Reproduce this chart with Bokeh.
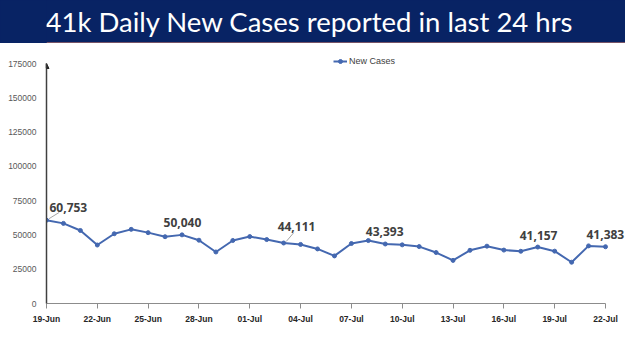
from bokeh.plotting import figure
from bokeh.models import Range1d, FixedTicker, Label, Legend, LegendItem, Span, Arrow, NormalHead, BasicTickFormatter
from bokeh.layouts import column
from bokeh.embed import file_html
from bokeh.resources import INLINE

# ---------------- data ----------------
dates = ["19-Jun", "20-Jun", "21-Jun", "22-Jun", "23-Jun", "24-Jun", "25-Jun", "26-Jun",
         "27-Jun", "28-Jun", "29-Jun", "30-Jun", "01-Jul", "02-Jul", "03-Jul", "04-Jul",
         "05-Jul", "06-Jul", "07-Jul", "08-Jul", "09-Jul", "10-Jul", "11-Jul", "12-Jul",
         "13-Jul", "14-Jul", "15-Jul", "16-Jul", "17-Jul", "18-Jul", "19-Jul", "20-Jul",
         "21-Jul", "22-Jul"]
new_cases = [60753, 58419, 53256, 42640, 50848, 54069, 51667, 48698,
             50040, 46148, 37566, 45951, 48786, 46617, 44111, 43071,
             39796, 34703, 43733, 45892, 43393, 42766, 41506, 37154,
             31443, 38792, 41806, 38949, 38079, 41157, 38164, 30093,
             42015, 41383]
annotated_dates = ["19-Jun", "27-Jun", "03-Jul", "09-Jul", "18-Jul", "22-Jul"]
tick_step_days = 3
y_ticks = [0, 25000, 50000, 75000, 100000, 125000, 150000, 175000]
title_text = "41k Daily New Cases reported in last 24 hrs"
series_name = "New Cases"

# ---------------- layout / style ----------------
W = 625
BANNER_H = 43
CHART_H = 308
LEFT = 46
TOP = 2
BOTTOM = 48
frame_w = W - LEFT
frame_h = CHART_H - TOP - BOTTOM
n = len(dates)
px_day = 559 / (n - 1)
x_end = frame_w / px_day
y_top = y_ticks[-1]
px_unit = 240 / y_top
y_end = frame_h / px_unit

NAVY = "#082364"
LINE_C = "#4468b0"
TEXT_C = "#404040"

# label offsets in screen px (dx from point to text start, dy up), leader line flag
label_style = {
    "19-Jun": (3, 13, True),
    "27-Jun": (-18.5, 12, False),
    "03-Jul": (-6, 17, True),
    "09-Jul": (-19.5, 12, False),
    "18-Jul": (-18, 12, False),
    "22-Jul": (-19, 12, False),
}

# ---------------- banner ----------------
b = figure(width=W, height=BANNER_H, x_range=Range1d(LEFT, W), y_range=Range1d(0, BANNER_H),
           x_axis_type=None, toolbar_location=None, output_backend="svg",
           min_border_left=LEFT, min_border_right=0, min_border_top=0, min_border_bottom=0,
           styles={"background-color": NAVY})
b.yaxis.ticker = FixedTicker(ticks=[])
b.yaxis.axis_line_color = None
b.yaxis.major_tick_line_color = None
b.yaxis.minor_tick_line_color = None
b.yaxis.major_label_text_color = None
b.grid.visible = False
b.outline_line_color = None
b.background_fill_color = NAVY
b.border_fill_color = NAVY
b.add_layout(Span(location=0.5, dimension="width", line_color="#e8866a", line_width=1))
b.add_layout(Label(x=LEFT - 1, y=BANNER_H - 21, text=title_text, text_align="left",
                   text_baseline="middle", text_color="white", text_font="Lato",
                   text_font_size="27.5px"))

# ---------------- chart ----------------
xs = list(range(n))
p = figure(width=W, height=CHART_H, x_range=Range1d(0, x_end), y_range=Range1d(0, y_end),
           toolbar_location=None, output_backend="svg",
           min_border_left=LEFT, min_border_right=0, min_border_top=TOP, min_border_bottom=BOTTOM)
p.grid.visible = False
p.outline_line_color = None
p.background_fill_color = "white"
p.border_fill_color = "white"

ln = p.line(xs, new_cases, line_color=LINE_C, line_width=2)
sc = p.scatter(xs, new_cases, marker="circle", size=4, fill_color=LINE_C, line_color=LINE_C)

# y axis
ya = p.yaxis[0]
ya.bounds = (0, y_top)
ya.ticker = FixedTicker(ticks=y_ticks)
ya.formatter = BasicTickFormatter(use_scientific=False)
ya.major_tick_line_color = None
ya.minor_tick_line_color = None
ya.axis_line_color = "#404040"
ya.axis_line_width = 1.5
ya.major_label_text_font = "Liberation Sans"
ya.major_label_text_font_size = "8.5px"
ya.major_label_text_color = "#595959"
ya.major_label_standoff = 4

# x axis
xa = p.xaxis[0]
xa.bounds = (0, n - 1)
tick_idx = list(range(0, n, tick_step_days))
xa.ticker = FixedTicker(ticks=tick_idx)
xa.major_label_overrides = {i: dates[i] for i in tick_idx}
xa.minor_tick_line_color = None
xa.major_tick_in = 0
xa.major_tick_out = 5
xa.major_tick_line_color = "#8c8c8c"
xa.axis_line_color = "#8c8c8c"
xa.major_label_text_font = "Liberation Sans"
xa.major_label_text_font_style = "bold"
xa.major_label_text_font_size = "8.5px"
xa.major_label_text_color = "#262626"
xa.major_label_standoff = 5

# arrow head on y axis
p.add_layout(Arrow(end=NormalHead(size=5, fill_color="#262626", line_color="#262626"),
                   x_start=0, y_start=y_top * 0.98, x_end=0, y_end=y_top,
                   line_color="#404040", line_width=1.5))

# data labels
for d in annotated_dates:
    i = dates.index(d)
    dx, dy, leader = label_style[d]
    p.add_layout(Label(x=i, y=new_cases[i], text=f"{new_cases[i]:,}", x_offset=dx, y_offset=dy,
                       text_align="left", text_baseline="middle", text_font="Open Sans",
                       text_font_style="bold", text_font_size="12px", text_color=TEXT_C))
    if leader:
        lx = (dx + 14) * 0.75 if dx > 0 else 10
        x1 = i + lx / px_day
        y1 = new_cases[i] + (dy * 0.6) / px_unit
        p.segment(x0=[i + 0.15], y0=[new_cases[i] + 1.5 / px_unit], x1=[x1], y1=[y1],
                  line_color="#a6a6a6", line_width=1)

legend = Legend(items=[LegendItem(label=series_name, renderers=[ln, sc])],
                location=(287, 237), orientation="horizontal", padding=0, margin=0,
                border_line_color=None, background_fill_alpha=0, glyph_width=14, glyph_height=10,
                label_standoff=2, label_text_font="Liberation Sans", label_text_font_size="9px",
                label_text_color=TEXT_C, label_height=10)
p.add_layout(legend)

layout = column(b, p, spacing=0)
open("out.html", "w").write(file_html(layout, INLINE))
